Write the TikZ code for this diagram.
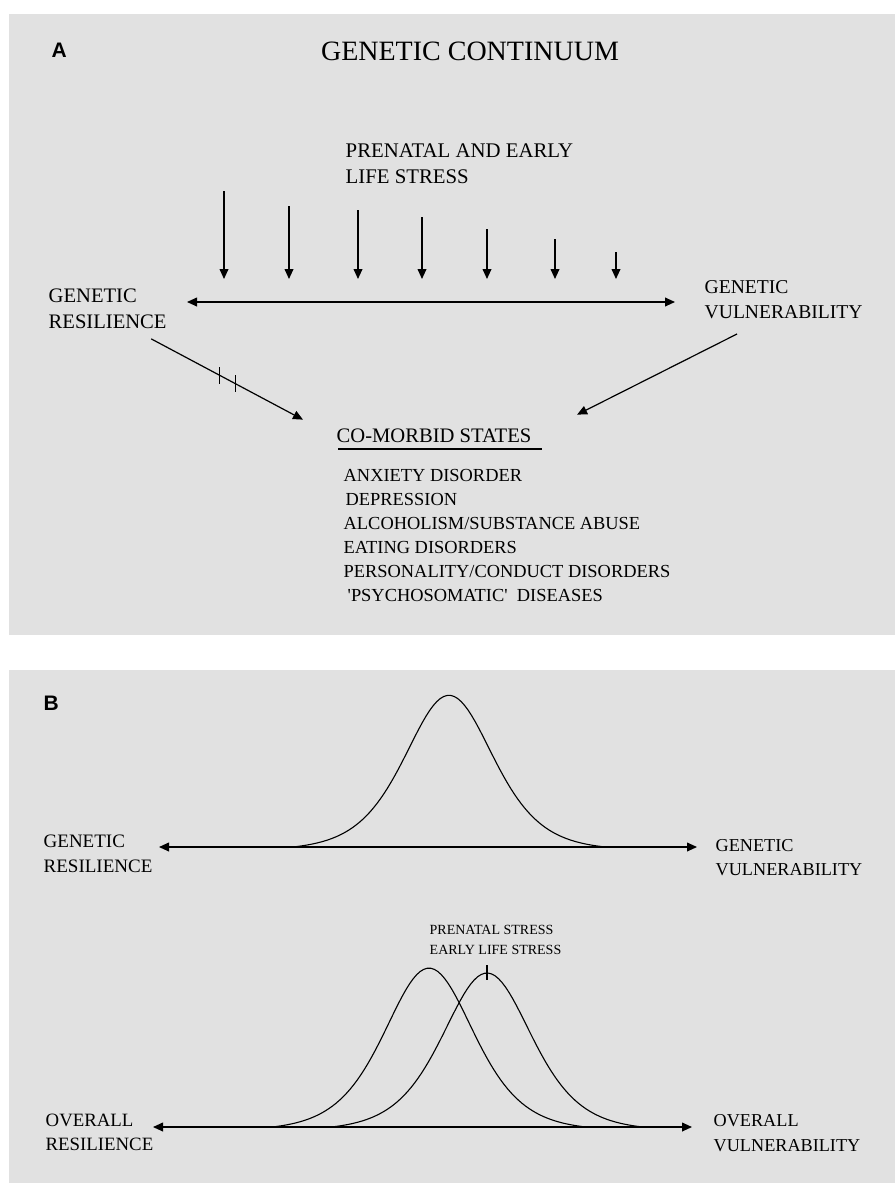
\documentclass[tikz,border=0pt]{standalone}
\usepackage{fontspec}
\setmainfont{Liberation Serif}
\newfontfamily\panelfont{Liberation Sans}
\usetikzlibrary{arrows.meta, positioning}
\definecolor{panelgray}{RGB}{225,225,225}

\begin{document}
\begin{tikzpicture}[
  x=0.5pt, y=-0.5pt,
  lbl/.style={inner sep=0pt, anchor=base west, align=left, font=\fontsize{10.3}{13}\selectfont},
  panel/.style={inner sep=0pt, anchor=base west, font=\panelfont\bfseries\fontsize{10.5}{12}\selectfont},
  curve/.style={line width=0.55pt},
  >={Triangle[length=5pt, width=4.4pt]},
  line width=0.7pt
]
\useasboundingbox (0,0) rectangle (895,1183);
\fill[panelgray] (9,14) rectangle (895,635);
\fill[panelgray] (9,670) rectangle (895,1183);

% panel A
\node[panel] (labA) at (51,57) {A};
\node[inner sep=0pt, anchor=base, font=\fontsize{14}{16}\selectfont] (title) at (470,60) {GENETIC CONTINUUM};
\node[lbl, font=\fontsize{10.4}{13}\selectfont] (stress) at (345,183) {PRENATAL AND EARLY\\LIFE STRESS};
\foreach \x/\t [count=\i] in {224/191, 289/206, 358/210, 422/217, 487/229, 555/239, 616/252} {
  \coordinate (st\i) at (\x,\t);
  \coordinate (sb\i) at (\x,279);
  \draw[->] (st\i) -- (sb\i);
}
\coordinate (axAl) at (187,302);
\coordinate (axAr) at (675,302);
\draw[<->] (axAl) -- (axAr);
\node[lbl] (genres) at (48,328) {GENETIC\\RESILIENCE};
\node[lbl, font=\fontsize{9.8}{12.5}\selectfont] (genvul) at (704,318) {GENETIC\\VULNERABILITY};

\node[lbl] (comorbid) at (336,442) {CO-MORBID STATES};
\draw[line width=0.9pt] ([shift={(2,7)}]comorbid.base west) -- ([shift={(10,7)}]comorbid.base east);
\node[lbl, font=\fontsize{9.2}{12}\selectfont] (disorders) at (343,601) {ANXIETY DISORDER\\\hspace{1pt}DEPRESSION\\ALCOHOLISM/SUBSTANCE ABUSE\\EATING DISORDERS\\PERSONALITY/CONDUCT DISORDERS\\\hspace{2pt}\textquotesingle PSYCHOSOMATIC\textquotesingle\ \ DISEASES};

\draw[->, line width=0.6pt] ([shift={(-16,10)}]genres.south east) -- ([shift={(-33,-8)}]comorbid.north west)
  coordinate[pos=0.448] (tk1) coordinate[pos=0.552] (tk2);
\foreach \k in {tk1, tk2}
  \draw[line width=0.5pt] ([shift={(0,-8)}]\k) -- ([shift={(0,9)}]\k);
\draw[->, line width=0.6pt] ([shift={(33,15)}]genvul.south west) -- ([shift={(45,-13)}]comorbid.north east);

% panel B
\node[panel] (labB) at (43,710) {B};
\coordinate (axBl) at (159,847);
\coordinate (axBr) at (697,847);
\draw[<->] (axBl) -- (axBr);
\draw[curve] plot[domain=-2.62:2.62, samples=90] ({449+59.7*\x}, {847-155*(1/(cosh(\x)*cosh(\x))-0.021)});
\node[lbl, font=\fontsize{9.5}{12.5}\selectfont] (bres) at (43,872) {GENETIC\\RESILIENCE};
\node[lbl, font=\fontsize{9.1}{12}\selectfont] (bvul) at (715,875) {GENETIC\\VULNERABILITY};

\node[lbl, font=\fontsize{7}{10}\selectfont] (shiftlbl) at (429,954) {PRENATAL STRESS\\EARLY LIFE STRESS};
\coordinate (axCl) at (153,1127);
\coordinate (axCr) at (692,1127);
\draw[<->] (axCl) -- (axCr);
\draw[curve] plot[domain=-2.58:2.58, samples=90] ({429+60.4*\x}, {1127-162.5*(1/(cosh(\x)*cosh(\x))-0.022)});
\draw[curve] plot[domain=-2.6:2.58, samples=90] ({487+60*\x}, {1127-157.5*(1/(cosh(\x)*cosh(\x))-0.022)});
\draw[curve] (487,965) -- (487,980);
\node[lbl, font=\fontsize{9.4}{12}\selectfont] (ores) at (45,1150) {OVERALL\\RESILIENCE};
\node[lbl, font=\fontsize{9.1}{12.5}\selectfont] (ovul) at (713,1151) {OVERALL\\VULNERABILITY};
\end{tikzpicture}
\end{document}
